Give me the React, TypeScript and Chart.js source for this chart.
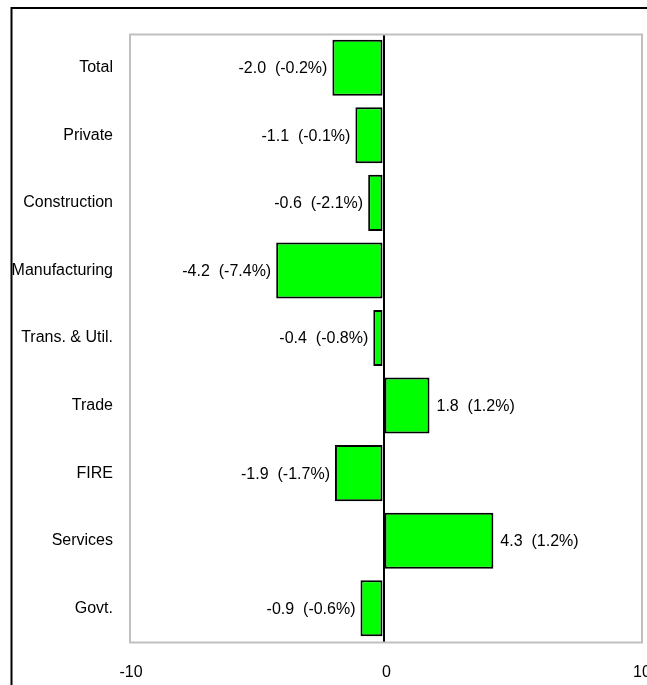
import React, { useEffect, useRef } from "react";
import { Chart, registerables } from "chart.js";

Chart.register(...registerables);

const categories = [
  "Total",
  "Private",
  "Construction",
  "Manufacturing",
  "Trans. & Util.",
  "Trade",
  "FIRE",
  "Services",
  "Govt.",
];
const changes = [-2.0, -1.1, -0.6, -4.2, -0.4, 1.8, -1.9, 4.3, -0.9];
const percents = [-0.2, -0.1, -2.1, -7.4, -0.8, 1.2, -1.7, 1.2, -0.6];
const xMin = -10;
const xMax = 10;
const xStep = 10;

const FONT_FAMILY = "'Liberation Sans', Arial, sans-serif";
const FONT_SIZE = 16;

const framePlugin = {
  id: "frame",
  beforeDatasetsDraw(chart: any) {
    const { ctx, chartArea } = chart;
    const { left, top, right, bottom } = chartArea;
    ctx.save();
    ctx.strokeStyle = "#c0c0c0";
    ctx.lineWidth = 2;
    ctx.strokeRect(left + 2, top + 0.5, right - left + 1, bottom - top);
    ctx.restore();
  },
  afterDraw(chart: any) {
    const { ctx } = chart;
    ctx.save();
    ctx.strokeStyle = "#000";
    ctx.lineWidth = 2;
    ctx.strokeRect(11.5, 8, 800, 800);
    ctx.restore();
  },
};

const labelPlugin = {
  id: "barLabels",
  afterDatasetsDraw(chart: any) {
    const { ctx } = chart;
    const meta = chart.getDatasetMeta(0);
    ctx.save();
    ctx.font = `${FONT_SIZE}px ${FONT_FAMILY}`;
    ctx.fillStyle = "#000";
    ctx.textBaseline = "middle";
    meta.data.forEach((bar: any, i: number) => {
      const v = changes[i];
      const text = `${v.toFixed(1)}\u00a0\u00a0(${percents[i].toFixed(1)}%)`;
      if (v < 0) {
        ctx.textAlign = "right";
        ctx.fillText(text, bar.x - 5, bar.y + 1);
      } else {
        ctx.textAlign = "left";
        ctx.fillText(text, bar.x + 7, bar.y + 1);
      }
    });
    ctx.restore();
  },
};

export default function App() {
  const canvasRef = useRef<HTMLCanvasElement | null>(null);

  useEffect(() => {
    document.body.style.margin = "0";
    const canvas = canvasRef.current;
    if (!canvas) return;
    const chart = new Chart(canvas, {
      type: "bar",
      data: {
        labels: categories,
        datasets: [
          {
            data: changes,
            backgroundColor: "#00ff00",
            borderColor: "#000000",
            borderWidth: 2,
            borderSkipped: false,
            barPercentage: 0.83,
            categoryPercentage: 1,
          },
        ],
      },
      options: {
        indexAxis: "y",
        responsive: false,
        animation: false,
        events: [],
        layout: { padding: { top: 34, right: 8, left: 0, bottom: 0 } },
        plugins: {
          legend: { display: false },
          tooltip: { enabled: false },
          title: { display: false },
        },
        scales: {
          x: {
            type: "linear",
            min: xMin,
            max: xMax,
            z: 1,
            border: { display: false },
            grid: {
              drawTicks: false,
              lineWidth: 2,
              color: (c: any) =>
                c.tick && c.tick.value === 0 ? "#000000" : "rgba(0,0,0,0)",
            },
            ticks: {
              stepSize: xStep,
              padding: 21,
              labelOffset: 3,
              color: "#000",
              font: { family: FONT_FAMILY, size: FONT_SIZE },
              maxRotation: 0,
              callback: (v: any) => String(v),
            },
            afterFit: (s: any) => {
              s.height = 43;
              s.paddingLeft = 0;
              s.paddingRight = 0;
            },
          },
          y: {
            type: "category",
            border: { display: false },
            grid: { display: false, drawTicks: false },
            ticks: {
              padding: 15,
              color: "#000",
              font: { family: FONT_FAMILY, size: FONT_SIZE },
            },
            afterFit: (s: any) => {
              s.width = 128;
              s.paddingTop = 0;
              s.paddingBottom = 0;
            },
          },
        },
      },
      plugins: [framePlugin, labelPlugin],
    });
    return () => chart.destroy();
  }, []);

  return (
    <div style={{ width: 647, height: 685, background: "#fff" }}>
      <canvas
        ref={canvasRef}
        width={647}
        height={685}
        style={{ width: 647, height: 685, display: "block" }}
      />
    </div>
  );
}
